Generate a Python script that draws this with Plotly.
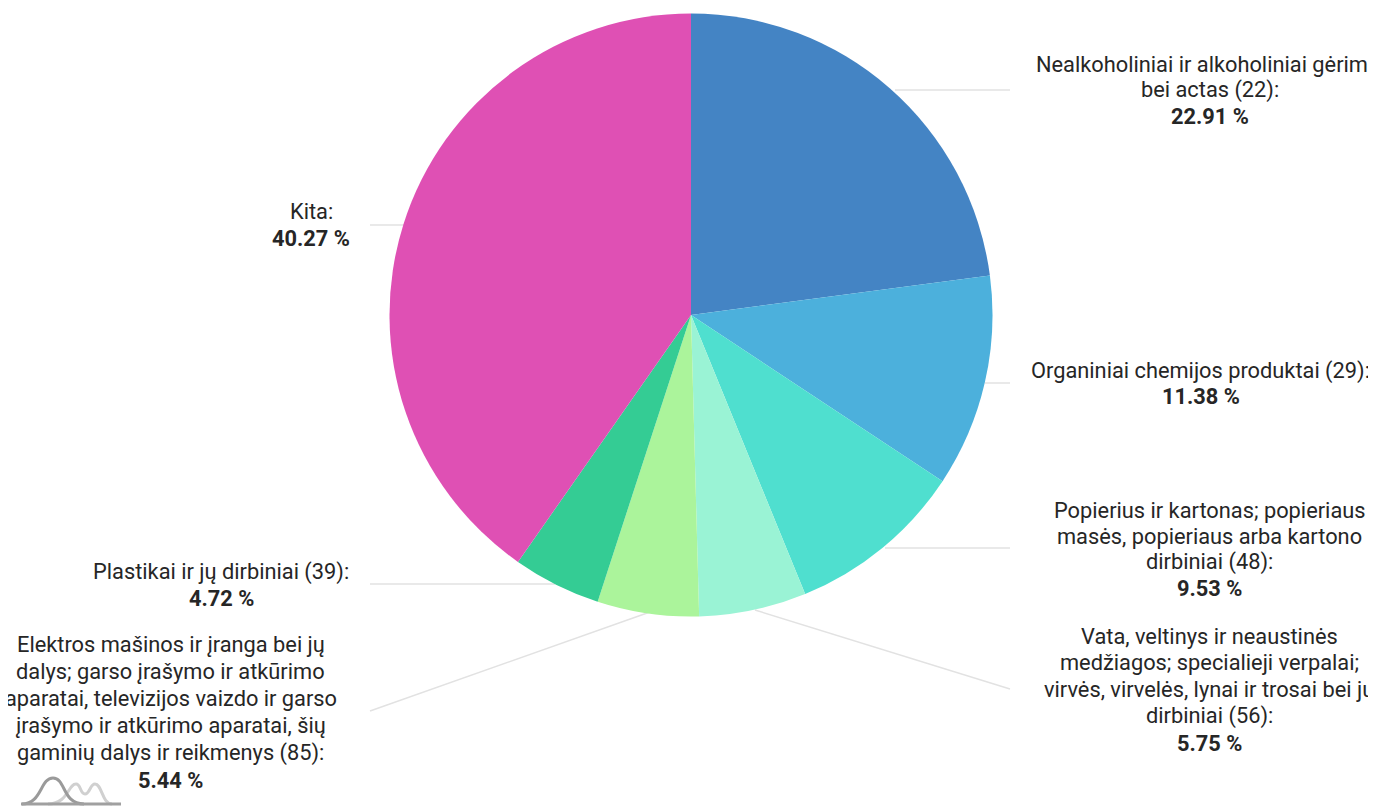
import plotly.graph_objects as go

categories = ["Nealkoholiniai ir alkoholiniai gėrimai bei actas (22)",
              "Organiniai chemijos produktai (29)",
              "Popierius ir kartonas; popieriaus masės, popieriaus arba kartono dirbiniai (48)",
              "Vata, veltinys ir neaustinės medžiagos; specialieji verpalai; virvės, virvelės, lynai ir trosai bei jų dirbiniai (56)",
              "Elektros mašinos ir įranga bei jų dalys; garso įrašymo ir atkūrimo aparatai, televizijos vaizdo ir garso įrašymo ir atkūrimo aparatai, šių gaminių dalys ir reikmenys (85)",
              "Plastikai ir jų dirbiniai (39)",
              "Kita"]
values = [22.91, 11.38, 9.53, 5.75, 5.44, 4.72, 40.27]
colors = ["#4484C4", "#4CB0DC", "#4FDFCF", "#9AF3D5", "#ABF49B", "#34CC94", "#DF50B4"]
label_lines = [
    ["Nealkoholiniai ir alkoholiniai gėrimai", "bei actas (22):"],
    ["Organiniai chemijos produktai (29):"],
    ["Popierius ir kartonas; popieriaus", "masės, popieriaus arba kartono", "dirbiniai (48):"],
    ["Vata, veltinys ir neaustinės", "medžiagos; specialieji verpalai;", "virvės, virvelės, lynai ir trosai bei jų", "dirbiniai (56):"],
    ["Elektros mašinos ir įranga bei jų", "dalys; garso įrašymo ir atkūrimo", "aparatai, televizijos vaizdo ir garso", "įrašymo ir atkūrimo aparatai, šių", "gaminių dalys ir reikmenys (85):"],
    ["Plastikai ir jų dirbiniai (39):"],
    ["Kita:"],
]

# layout (page pixels)
W, H = 1360, 799
OFF = 8
CX, CY, R = 691, 315, 301.5
label_cx = [1210, 1200.5, 1209.5, 1209, 170.5, 221, 311]
label_top = [64, 371, 510, 636, 644, 572, 212]
line_h = [26, 25, 26, 26.8, 27.2, 26.5, 26.5]
leader_end = [(1010, 90), (1010, 383), (1010, 548), (1010, 689), (370, 711), (370, 584), (370, 225)]
leader_start = [(895, 90), (985, 383), (885, 548), (755, 610), (650, 612), (555, 584), (405, 225)]

px = lambda x: (x - OFF) / W
py = lambda y: 1 - (y - OFF) / H

fig = go.Figure(go.Pie(
    labels=categories, values=values, sort=False, direction="clockwise", rotation=0,
    marker=dict(colors=colors, line=dict(width=0)), textinfo="none", hoverinfo="label+percent",
    domain=dict(x=[px(CX - R), px(CX + R)], y=[py(CY + R), py(CY - R)]), showlegend=False,
))

annots, shapes = [], []
for lines, val, cx, top, lh, s, e in zip(label_lines, values, label_cx, label_top, line_h, leader_start, leader_end):
    for i, t in enumerate(lines + [f"<b>{val:.2f} %</b>"]):
        annots.append(dict(text=t, x=px(cx), y=py(top + i * lh), xref="paper", yref="paper",
                           xanchor="center", yanchor="middle", showarrow=False,
                           font=dict(family="Roboto", size=21.8, color="#262626")))
    shapes.append(dict(type="line", xref="paper", yref="paper", layer="below",
                       x0=px(s[0]), y0=py(s[1]), x1=px(e[0]), y1=py(e[1]),
                       line=dict(color="#E2E2E2", width=1.5)))

def path(start, *segs):
    d = f"M{px(start[0]):.5f},{py(start[1]):.5f}"
    for c1, c2, p in segs:
        d += " C" + " ".join(f"{px(x):.5f},{py(y):.5f}" for x, y in (c1, c2, p))
    return d

logo_a = path((22, 804), ((42, 804), (40, 778), (53, 778)), ((66, 778), (62, 804), (84, 804)))
logo_b = path((48, 804), ((68, 804), (68, 784), (76, 784)), ((81, 784), (80, 794), (85, 794)),
              ((90, 794), (90, 784), (95, 784)), ((102, 784), (102, 804), (112, 804)))
shapes.append(dict(type="path", path=logo_b, xref="paper", yref="paper",
                   line=dict(color="#D0D0D0", width=3)))
shapes.append(dict(type="path", path=logo_a, xref="paper", yref="paper",
                   line=dict(color="#9A9A9A", width=3)))
shapes.append(dict(type="line", xref="paper", yref="paper", x0=px(21), x1=px(121), y0=py(804), y1=py(804),
                   line=dict(color="#A0A0A0", width=3)))

fig.update_layout(width=W, height=H, margin=dict(l=0, r=0, t=0, b=0), paper_bgcolor="white",
                  annotations=annots, shapes=shapes)
fig.write_html("out.html", config={"displayModeBar": False},
               post_script="document.documentElement.style.overflow='hidden';")
